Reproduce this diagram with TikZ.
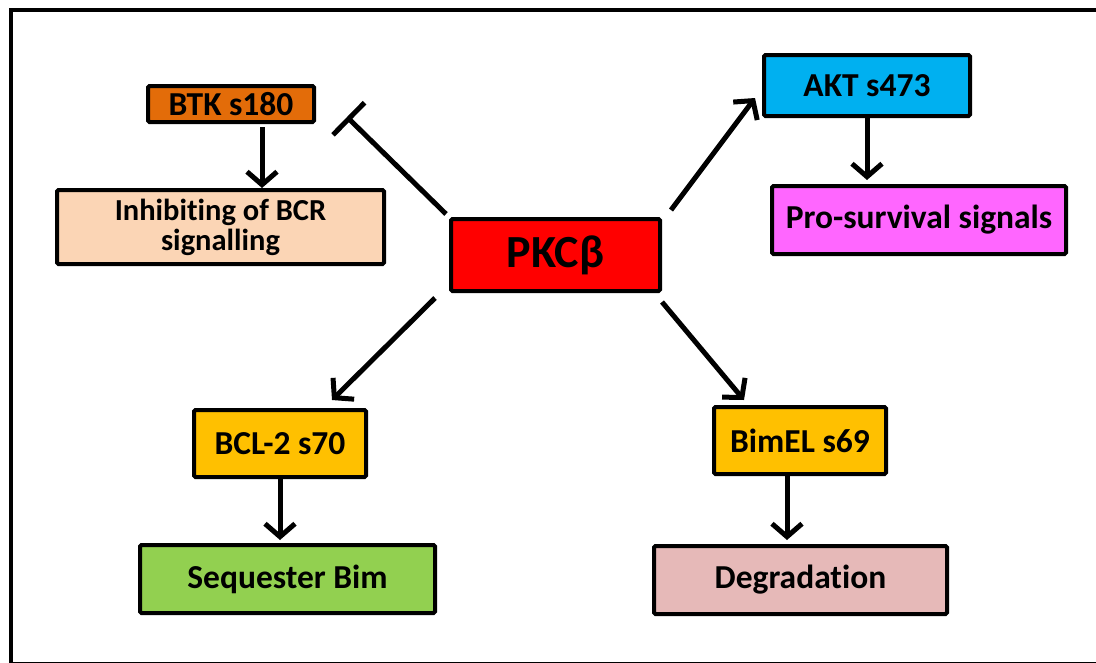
\documentclass[tikz,border=0pt]{standalone}
\usepackage{fontspec}
\setmainfont{Carlito}[Ligatures=NoCommon]
\usetikzlibrary{arrows.meta}
\usetikzlibrary{positioning}
\tikzstyle{boxnode} = [draw, rectangle, line width=4pt, rounded corners=1.5pt, align=center, font=\bfseries\fontsize{33.5}{36}\selectfont, inner sep=0pt]
\tikzstyle{actarrow} = [line width=5pt, -{Straight Barb[length=13pt,width=30pt,line width=5pt]}]
\tikzstyle{inharrow} = [line width=5pt, -{Bar[width=45pt,line width=5pt]}]
\definecolor{btkorange}{HTML}{E36C09}
\definecolor{inhpeach}{HTML}{FBD5B5}
\definecolor{aktblue}{HTML}{00B0F0}
\definecolor{promagenta}{HTML}{FF66FF}
\definecolor{bclyellow}{HTML}{FFC000}
\definecolor{seqgreen}{HTML}{92D050}
\definecolor{degpink}{HTML}{E6B9B8}

\begin{document}
\begin{tikzpicture}[x=1pt,y=-1pt]
\useasboundingbox (0,0) rectangle (1096,662);
\draw[line width=4pt] (11,9.5) rectangle (1100,663.5);

\node[boxnode, fill=red, minimum width=209pt, minimum height=72pt, font=\bfseries\fontsize{46}{50}\selectfont] (pkc) at (555.5,255) {PKCβ};
\node[boxnode, fill=btkorange, minimum width=166pt, minimum height=36pt] (btk) at (231,104) {BTK s180};
\node[boxnode, fill=inhpeach, minimum width=327pt, minimum height=74pt, font=\bfseries\fontsize{30.5}{30}\selectfont] (inh) at (220.5,227) {Inhibiting of BCR\\signalling};
\node[boxnode, fill=aktblue, minimum width=206pt, minimum height=61pt] (akt) at (867,85.5) {AKT s473};
\node[boxnode, fill=promagenta, minimum width=294pt, minimum height=68pt] (pro) at (919,220) {Pro-survival signals};
\node[boxnode, fill=bclyellow, minimum width=172pt, minimum height=67pt] (bcl) at (280,443.5) {BCL-2 s70};
\node[boxnode, fill=bclyellow, minimum width=172pt, minimum height=67pt] (bimel) at (800,440.5) {BimEL s69};
\node[boxnode, fill=seqgreen, minimum width=295pt, minimum height=68pt] (seq) at (287.5,579) {Sequester Bim};
\node[boxnode, fill=degpink, minimum width=293pt, minimum height=68pt] (deg) at (800.5,580) {Degradation};

% from PKCb
\draw[inharrow] ([shift={(-3,-3)}]pkc.north west) -- ([shift={(31,-7)}]btk.south east);
\draw[actarrow] ([shift={(9,-7)}]pkc.north east) -- ([shift={(-7,-20)}]akt.south west);
\draw[actarrow] ([shift={(-14,5)}]pkc.south west) -- ([shift={(-36,-8)}]bcl.north east);
\draw[actarrow] ([shift={(0,9)}]pkc.south east) -- ([shift={(32,-5)}]bimel.north west);

% downstream
\draw[actarrow, shorten <=3pt] ([xshift=31pt]btk.south) -- ([xshift=31pt]btk.south |- inh.north);
\draw[actarrow, shorten >=4pt] (akt.south) -- (akt.south |- pro.north);
\draw[actarrow, shorten >=3pt] (bcl.south) -- (bcl.south |- seq.north);
\draw[actarrow, shorten >=4pt] ([xshift=-13pt]bimel.south) -- ([xshift=-13pt]bimel.south |- deg.north);
\end{tikzpicture}
\end{document}
